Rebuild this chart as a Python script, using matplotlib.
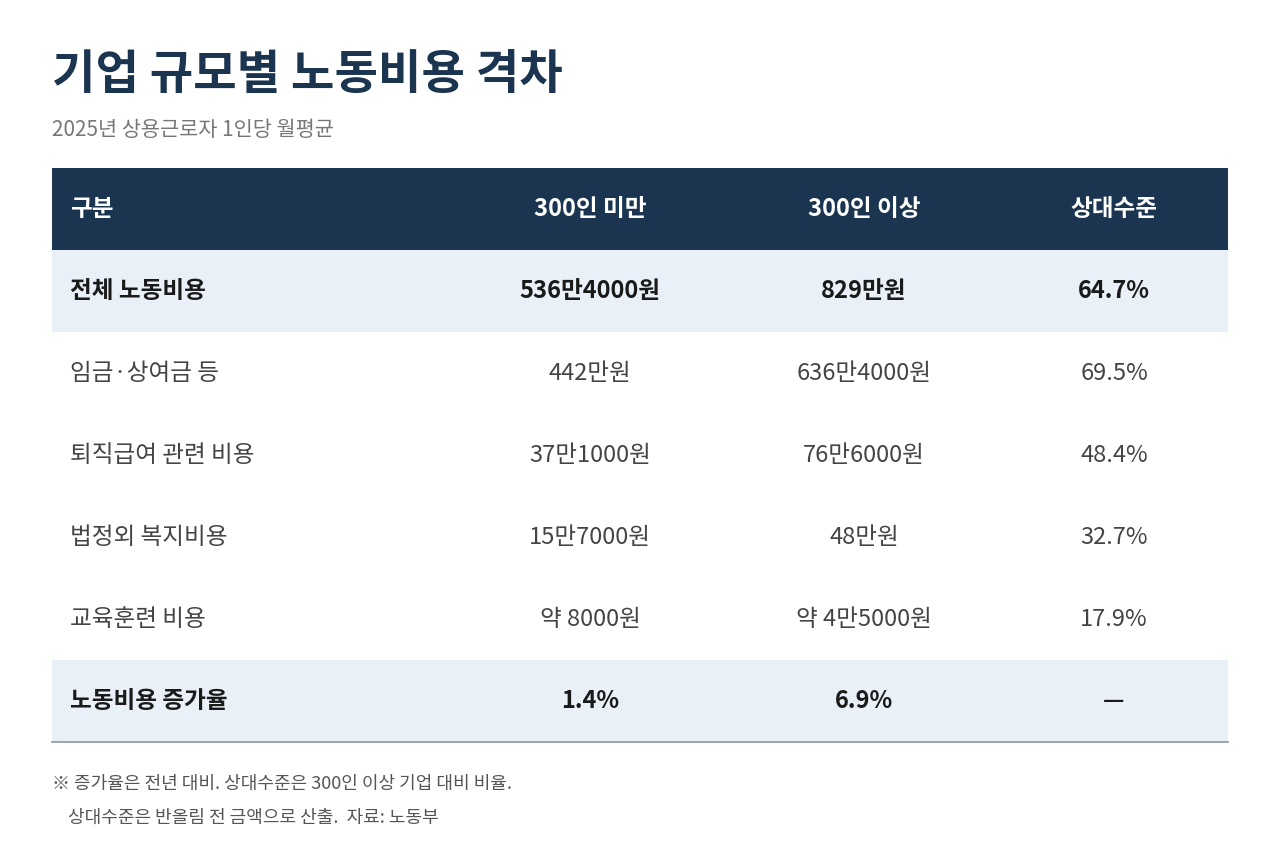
import matplotlib
matplotlib.use("Agg")
import matplotlib.pyplot as plt
from matplotlib.patches import Rectangle

plt.rcParams['font.family'] = ['Noto Sans CJK KR', 'DejaVu Sans']

title = "기업 규모별 노동비용 격차"
subtitle = "2025년 상용근로자 1인당 월평균"
headers = ["구분", "300인 미만", "300인 이상", "상대수준"]
row_labels = ["전체 노동비용", "임금·상여금 등", "퇴직급여 관련 비용", "법정외 복지비용", "교육훈련 비용", "노동비용 증가율"]
small_firms = ["536만4000원", "442만원", "37만1000원", "15만7000원", "약 8000원", "1.4%"]
large_firms = ["829만원", "636만4000원", "76만6000원", "48만원", "약 4만5000원", "6.9%"]
relative = ["64.7%", "69.5%", "48.4%", "32.7%", "17.9%", "—"]
highlight = [True, False, False, False, False, True]
footnotes = ["※ 증가율은 전년 대비. 상대수준은 300인 이상 기업 대비 비율.",
             "    상대수준은 반올림 전 금액으로 산출.  자료: 노동부"]

fig = plt.figure(figsize=(12.8, 8.64), dpi=100)
ax = fig.add_axes([0, 0, 1, 1])
ax.set_xlim(0, 1280); ax.set_ylim(864, 0); ax.axis('off')

navy = "#1b3550"
light = "#e9f0f7"
L, R = 52, 1228
col_x = [70, 590, 864, 1114]

ax.text(52, 75, title, fontsize=34, fontweight='bold', color=navy, va='center')
ax.text(52, 130, subtitle, fontsize=15, color="#777777", va='center', fontweight='light')

top, hh, rh = 168, 82, 82
ax.add_patch(Rectangle((L, top), R - L, hh, color=navy, lw=0))
for i, h in enumerate(headers):
    ax.text(col_x[i], top + hh / 2, h, fontsize=17, fontweight='bold', color='white',
            va='center', ha='left' if i == 0 else 'center')

for r in range(len(row_labels)):
    y0 = top + hh + r * rh
    if highlight[r]:
        ax.add_patch(Rectangle((L, y0), R - L, rh, color=light, lw=0))
    vals = [row_labels[r], small_firms[r], large_firms[r], relative[r]]
    for i, v in enumerate(vals):
        if highlight[r]:
            kw = dict(fontweight='bold', color='#1a1a1a')
        else:
            kw = dict(fontweight='light', color='#444444')
        ax.text(col_x[i], y0 + rh / 2, v, fontsize=17, va='center',
                ha='left' if i == 0 else 'center', **kw)

bottom = top + hh + len(row_labels) * rh
ax.plot([L, R], [bottom, bottom], color="#8a97a6", lw=1.2)

for k, f in enumerate(footnotes):
    ax.text(52, 784 + k * 34, f, fontsize=13, color="#555555", va='center')

fig.savefig("out.png", dpi=100)
